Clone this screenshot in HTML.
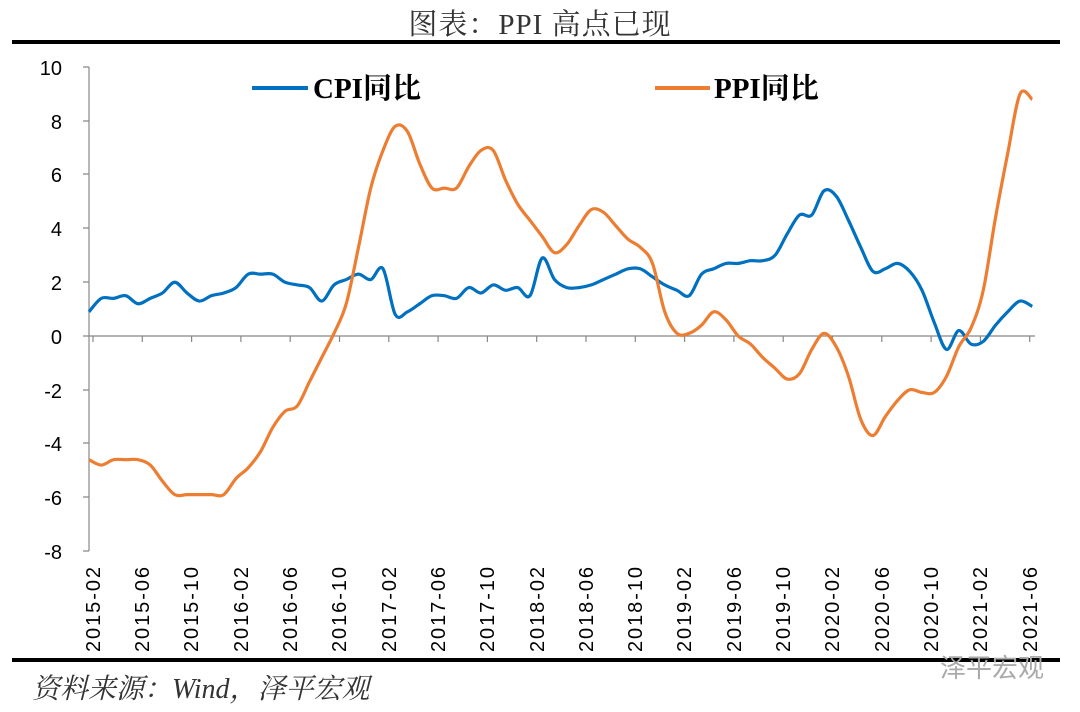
<!DOCTYPE html>
<html><head><meta charset="utf-8"><style>
body{margin:0;background:#fff;width:1080px;height:712px;overflow:hidden;position:relative}
.t{position:absolute;font-family:"Liberation Serif","Noto Serif CJK SC",serif;white-space:nowrap}
</style></head><body>
<div class="t" style="left:0;width:1080px;top:2px;text-align:center;font-size:29px;color:#333;letter-spacing:1px">图表：PPI 高点已现</div>
<div style="position:absolute;left:12px;top:40px;width:1048px;height:4px;background:#000"></div>
<div style="position:absolute;left:12px;top:658px;width:1048px;height:4px;background:#000"></div>
<div class="t" style="left:32px;top:667px;font-size:28px;font-style:italic;color:#333">资料来源：Wind，泽平宏观</div>
<div class="t" style="left:940px;top:648px;font-size:26px;color:#aaa;font-family:'Noto Sans CJK SC',sans-serif">泽平宏观</div>
<svg width="1080" height="712" style="position:absolute;left:0;top:0" font-family="Liberation Sans, Arial, sans-serif">
<g stroke="#888" stroke-width="1.2" fill="none">
<line x1="89" y1="67" x2="89" y2="551"/>
<line x1="89" y1="336" x2="1035" y2="336"/>
<path d="M83 67H89M83 121H89M83 174H89M83 228H89M83 282H89M83 336H89M83 390H89M83 443H89M83 497H89M83 551H89"/>
<path id="xt" d=""/>
</g>
<g font-size="20" text-anchor="end" fill="#000">
<text x="62" y="75">10</text><text x="62" y="129">8</text><text x="62" y="182">6</text><text x="62" y="236">4</text><text x="62" y="290">2</text><text x="62" y="344">0</text><text x="62" y="398">-2</text><text x="62" y="451">-4</text><text x="62" y="505">-6</text><text x="62" y="559">-8</text>
</g>
<g font-size="20" fill="#000" text-anchor="end">
<text transform="translate(100,567) rotate(-90)" textLength="85">2015-02</text>
<text transform="translate(149,567) rotate(-90)" textLength="85">2015-06</text>
<text transform="translate(198,567) rotate(-90)" textLength="85">2015-10</text>
<text transform="translate(248,567) rotate(-90)" textLength="85">2016-02</text>
<text transform="translate(297,567) rotate(-90)" textLength="85">2016-06</text>
<text transform="translate(346,567) rotate(-90)" textLength="85">2016-10</text>
<text transform="translate(396,567) rotate(-90)" textLength="85">2017-02</text>
<text transform="translate(445,567) rotate(-90)" textLength="85">2017-06</text>
<text transform="translate(494,567) rotate(-90)" textLength="85">2017-10</text>
<text transform="translate(544,567) rotate(-90)" textLength="85">2018-02</text>
<text transform="translate(593,567) rotate(-90)" textLength="85">2018-06</text>
<text transform="translate(642,567) rotate(-90)" textLength="85">2018-10</text>
<text transform="translate(691,567) rotate(-90)" textLength="85">2019-02</text>
<text transform="translate(741,567) rotate(-90)" textLength="85">2019-06</text>
<text transform="translate(790,567) rotate(-90)" textLength="85">2019-10</text>
<text transform="translate(839,567) rotate(-90)" textLength="85">2020-02</text>
<text transform="translate(889,567) rotate(-90)" textLength="85">2020-06</text>
<text transform="translate(938,567) rotate(-90)" textLength="85">2020-10</text>
<text transform="translate(987,567) rotate(-90)" textLength="85">2021-02</text>
<text transform="translate(1037,567) rotate(-90)" textLength="85">2021-06</text>
</g>
<line x1="252" y1="88" x2="308" y2="88" stroke="#0070C0" stroke-width="4"/>
<text x="313" y="98" font-size="29" font-weight="bold" font-family="Liberation Serif, Noto Serif CJK SC, serif">CPI同比</text>
<line x1="655" y1="88" x2="710" y2="88" stroke="#ED7D31" stroke-width="4"/>
<text x="714" y="98" font-size="29" font-weight="bold" font-family="Liberation Serif, Noto Serif CJK SC, serif">PPI同比</text>
<path id="cpi" fill="none" stroke="#0070C0" stroke-width="3.2"/>
<path id="ppi" fill="none" stroke="#ED7D31" stroke-width="3.2"/>
</svg>
<script>
var cpi=[0.9,1.4,1.4,1.5,1.2,1.4,1.6,2.0,1.6,1.3,1.5,1.6,1.8,2.3,2.3,2.3,2.0,1.9,1.8,1.3,1.9,2.1,2.3,2.1,2.5,0.8,0.9,1.2,1.5,1.5,1.4,1.8,1.6,1.9,1.7,1.8,1.5,2.9,2.1,1.8,1.8,1.9,2.1,2.3,2.5,2.5,2.2,1.9,1.7,1.5,2.3,2.5,2.7,2.7,2.8,2.8,3.0,3.8,4.5,4.5,5.4,5.2,4.3,3.3,2.4,2.5,2.7,2.4,1.7,0.5,-0.5,0.2,-0.3,-0.2,0.4,0.9,1.3,1.1];
var ppi=[-4.6,-4.8,-4.6,-4.6,-4.6,-4.8,-5.4,-5.9,-5.9,-5.9,-5.9,-5.9,-5.3,-4.9,-4.3,-3.4,-2.8,-2.6,-1.7,-0.8,0.1,1.2,3.3,5.5,6.9,7.8,7.6,6.4,5.5,5.5,5.5,6.3,6.9,6.9,5.8,4.9,4.3,3.7,3.1,3.4,4.1,4.7,4.6,4.1,3.6,3.3,2.7,0.9,0.1,0.1,0.4,0.9,0.6,0.0,-0.3,-0.8,-1.2,-1.6,-1.4,-0.5,0.1,-0.4,-1.5,-3.1,-3.7,-3.0,-2.4,-2.0,-2.1,-2.1,-1.5,-0.4,0.3,1.7,4.4,6.8,9.0,8.8];
function path(d){var p=d.map(function(v,i){return[89+i*12.25,336-v*26.89]});var s="M"+p[0][0]+" "+p[0][1];
for(var i=0;i<p.length-1;i++){var a=p[i-1]||p[i],b=p[i],c=p[i+1],e=p[i+2]||c;
s+="C"+(b[0]+(c[0]-a[0])/6)+" "+(b[1]+(c[1]-a[1])/6)+" "+(c[0]-(e[0]-b[0])/6)+" "+(c[1]-(e[1]-b[1])/6)+" "+c[0]+" "+c[1];}return s;}
document.getElementById('cpi').setAttribute('d',path(cpi));
document.getElementById('ppi').setAttribute('d',path(ppi));
var t="";for(var k=0;k<20;k++){var x=93+k*49.3;t+="M"+x+" 336V342";}
document.getElementById('xt').setAttribute('d',t);
</script>
</body></html>
